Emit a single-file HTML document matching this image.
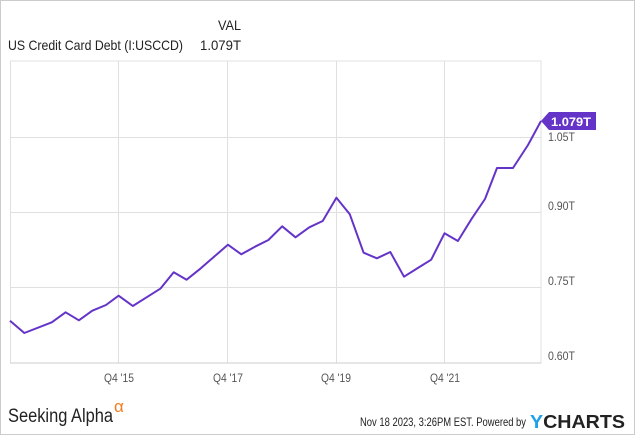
<!DOCTYPE html>
<html><head><meta charset="utf-8"><style>
body{margin:0;background:#fff}
svg{display:block}
text{font-family:"Liberation Sans",sans-serif}
</style></head><body>
<svg width="635" height="435" viewBox="0 0 635 435">
<rect x="0.5" y="0.5" width="634" height="434" fill="#fff" stroke="#ccc"/>
<text x="218" y="30" font-size="14" fill="#222" textLength="23" lengthAdjust="spacingAndGlyphs">VAL</text>
<text x="8" y="50" font-size="14" fill="#222" textLength="175" lengthAdjust="spacingAndGlyphs">US Credit Card Debt (I:USCCD)</text>
<text x="200" y="50" font-size="14" fill="#222" textLength="41" lengthAdjust="spacingAndGlyphs">1.079T</text>
<g stroke="#e0e0e0" stroke-width="1" fill="none">
<line x1="10" y1="137.5" x2="541" y2="137.5"/>
<line x1="10" y1="212.5" x2="541" y2="212.5"/>
<line x1="10" y1="287.5" x2="541" y2="287.5"/>
<line x1="118.5" y1="61" x2="118.5" y2="363"/>
<line x1="227.5" y1="61" x2="227.5" y2="363"/>
<line x1="336.5" y1="61" x2="336.5" y2="363"/>
<line x1="444.5" y1="61" x2="444.5" y2="363"/>
<rect x="10.5" y="61" width="530.5" height="302"/>
</g>
<line x1="10" y1="363" x2="541" y2="363" stroke="#ccc"/>
<g font-size="12" fill="#555">
<text x="548" y="141" textLength="27" lengthAdjust="spacingAndGlyphs">1.05T</text>
<text x="548" y="210" textLength="27" lengthAdjust="spacingAndGlyphs">0.90T</text>
<text x="548" y="285" textLength="27" lengthAdjust="spacingAndGlyphs">0.75T</text>
<text x="548" y="360" textLength="27" lengthAdjust="spacingAndGlyphs">0.60T</text>
<text x="104" y="382" textLength="30" lengthAdjust="spacingAndGlyphs">Q4 '15</text>
<text x="213" y="382" textLength="30" lengthAdjust="spacingAndGlyphs">Q4 '17</text>
<text x="321" y="382" textLength="30" lengthAdjust="spacingAndGlyphs">Q4 '19</text>
<text x="430" y="382" textLength="30" lengthAdjust="spacingAndGlyphs">Q4 '21</text>
</g>
<polyline fill="none" stroke="#6434c8" stroke-width="2" stroke-linejoin="round" points="10,320.7 24.3,333 51.8,322.3 65.6,312.3 78.9,320.3 92.3,310.7 106,305 118.6,295.7 132.8,306 146.6,297.3 160.3,288.7 173.7,272.3 186.6,279.7 200.8,268.3 214.6,256.3 227.9,244.7 241.3,254.3 255,246.7 268.4,240 282.2,226.3 295.5,237.3 309.3,227.3 322.7,221 336.4,197.7 349.8,214.3 363.6,252.7 376.9,258.3 390.3,252 404,276.7 417.8,268 431.2,259.7 444.5,233.3 457.9,241 471.7,218.7 485,199 497,168 513,168 528,145 541,121"/>
<polygon points="541,121 549,112 596,112 596,130 549,130" fill="#6434c8"/>
<text x="551" y="126" font-size="12" font-weight="bold" fill="#fff" textLength="40" lengthAdjust="spacingAndGlyphs">1.079T</text>
<text x="8" y="422" font-size="19" fill="#222" font-family="Liberation Serif,serif" textLength="105" lengthAdjust="spacingAndGlyphs">Seeking Alpha</text>
<text x="114" y="412" font-size="17" fill="#f47b20" font-family="Liberation Serif,serif">α</text>
<text x="360" y="426" font-size="12" fill="#222" textLength="166" lengthAdjust="spacingAndGlyphs">Nov 18 2023, 3:26PM EST.  Powered by</text>
<text x="530" y="428" font-size="18" font-weight="bold" fill="#222" textLength="95" lengthAdjust="spacingAndGlyphs"><tspan fill="#1ea0e8">Y</tspan>CHARTS</text>
</svg>
</body></html>
